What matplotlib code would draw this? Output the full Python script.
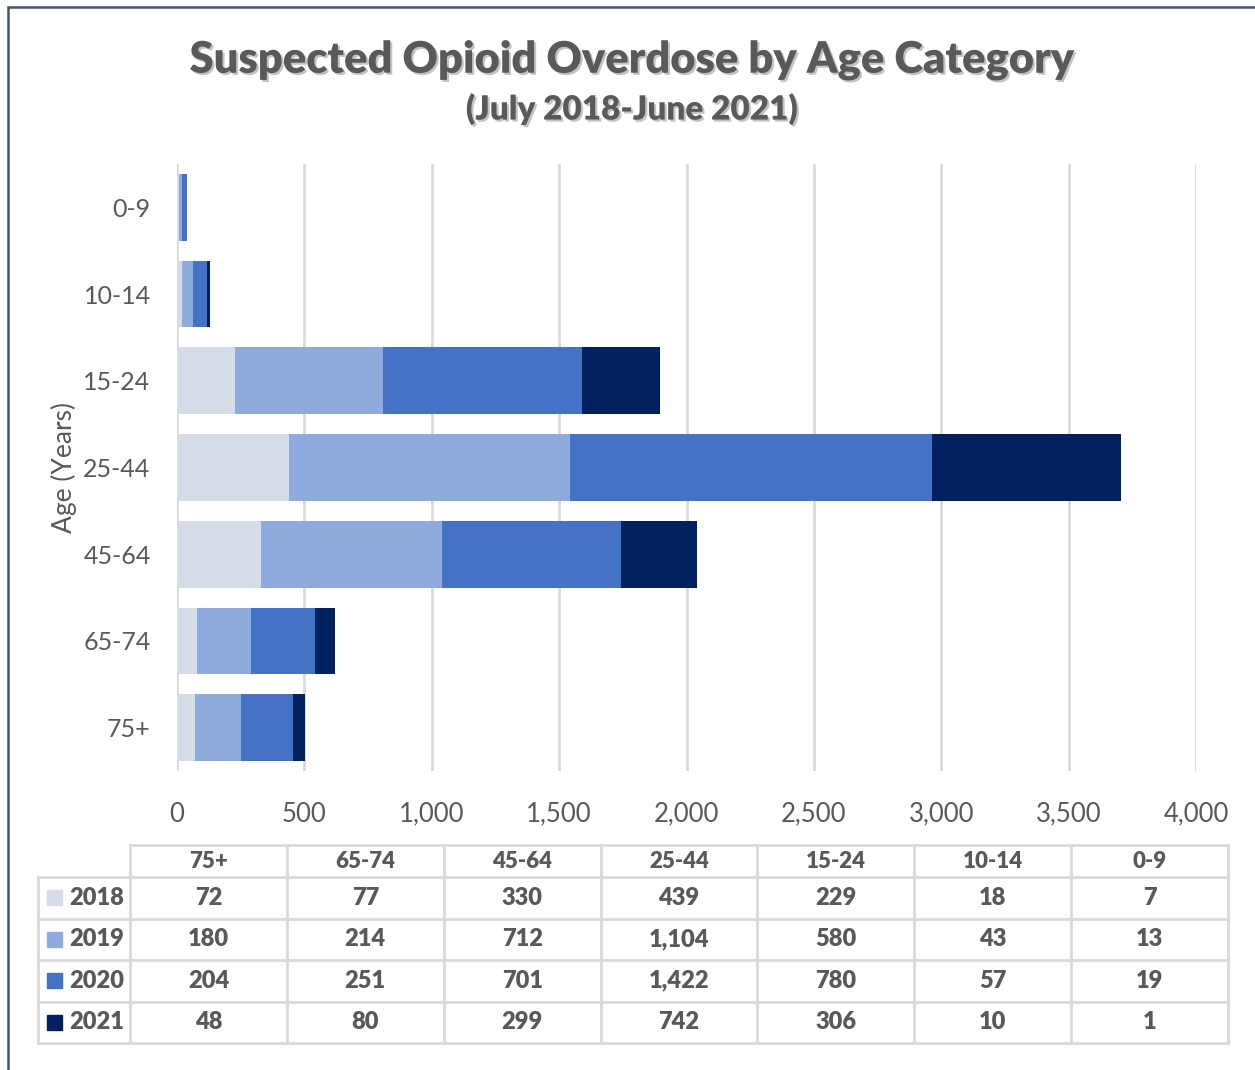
import matplotlib.pyplot as plt
import matplotlib.patheffects as pe
from matplotlib.patches import Rectangle
from matplotlib.ticker import FuncFormatter

# age groups in table order (bottom of chart to top)
ages = ['75+', '65-74', '45-64', '25-44', '15-24', '10-14', '0-9']
years = ['2018', '2019', '2020', '2021']
y2018 = [72, 77, 330, 439, 229, 18, 7]
y2019 = [180, 214, 712, 1104, 580, 43, 13]
y2020 = [204, 251, 701, 1422, 780, 57, 19]
y2021 = [48, 80, 299, 742, 306, 10, 1]
series = [y2018, y2019, y2020, y2021]
colors = ['#D6DCE5', '#8FAADC', '#4472C4', '#002060']

plt.rcParams['font.family'] = ['Lato', 'DejaVu Sans']
txt = '#595959'
grid = '#D9D9D9'

W, H = 1255, 1070
fig = plt.figure(figsize=(W / 100, H / 100), dpi=100)

# frame around the chart
fig.patches.append(Rectangle((8 / W, -0.5), 2, 1.5 - 7 / H, transform=fig.transFigure,
                             fill=False, edgecolor='#44546A', linewidth=1.8))

shadow = [pe.withSimplePatchShadow(offset=(1.5, -1.5), shadow_rgbFace='#888888', alpha=0.5)]
fig.text(632 / W, 1 - 60 / H, 'Suspected Opioid Overdose by Age Category', ha='center', va='center',
         fontsize=31.3, fontweight='heavy', color=txt, path_effects=shadow)
fig.text(632 / W, 1 - 109 / H, '(July 2018-June 2021)', ha='center', va='center',
         fontsize=24, fontweight='heavy', color=txt, path_effects=shadow)

# stacked bar chart
ax = fig.add_axes([177 / W, 299 / H, (1196 - 177) / W, (771 - 164) / H])
pos = list(range(len(ages)))
left = [0] * len(ages)
for vals, c in zip(series, colors):
    ax.barh(pos, vals, left=left, height=0.77, color=c, zorder=3)
    left = [a + b for a, b in zip(left, vals)]

ax.set_xlim(0, 4000)
ax.set_ylim(-0.5, 6.5)
ax.set_xticks(range(0, 4001, 500))
ax.xaxis.set_major_formatter(FuncFormatter(lambda v, p: f'{int(v):,}'))
ax.set_yticks(pos)
ax.set_yticklabels(ages)
ax.grid(axis='x', color=grid, linewidth=2, zorder=0)
for s in ax.spines.values():
    s.set_visible(False)
ax.tick_params(length=0, labelsize=18.5, colors=txt)
ax.tick_params(axis='y', labelsize=18, pad=19)
ax.tick_params(axis='x', pad=22)
ax.set_ylabel('Age (Years)', fontsize=19, color=txt)
ax.yaxis.set_label_coords(-0.098, 0.5)

# data table below the chart
tx0, tx1 = 130, 1228
tab = fig.add_axes([tx0 / W, 1 - 1043 / H, (tx1 - tx0) / W, (1043 - 845) / H])
hdr = 32 / 41.5
tab.set_xlim(0, 7)
tab.set_ylim(4, -hdr)
tab.axis('off')
lx = -(tx0 - 38) / 157 * 7 / ((tx1 - tx0) / 157)
kw = dict(color=grid, linewidth=2, clip_on=False)
tab.plot([0, 7], [-hdr, -hdr], **kw)
for r in range(5):
    tab.plot([lx, 7], [r, r], **kw)
tab.plot([lx, lx], [0, 4], **kw)
for c in range(8):
    tab.plot([c, c], [-hdr, 4], **kw)

for c, a in enumerate(ages):
    tab.text(c + 0.5, -hdr / 2, a, ha='center', va='center', fontsize=16,
             fontweight='heavy', color=txt)
sq_w = 15 / 157
sq_h = 15 / 41.5
for r, (yr, vals, col) in enumerate(zip(years, series, colors)):
    tab.add_patch(Rectangle((lx + 9 / 157, r + 0.5 - sq_h / 2), sq_w, sq_h,
                            color=col, clip_on=False))
    tab.text(lx + 31 / 157, r + 0.5, yr, ha='left', va='center', fontsize=17,
             fontweight='heavy', color=txt, clip_on=False)
    for c, v in enumerate(vals):
        tab.text(c + 0.5, r + 0.5, f'{v:,}', ha='center', va='center', fontsize=17,
                 fontweight='heavy', color=txt)

fig.savefig('out.png', dpi=100)
